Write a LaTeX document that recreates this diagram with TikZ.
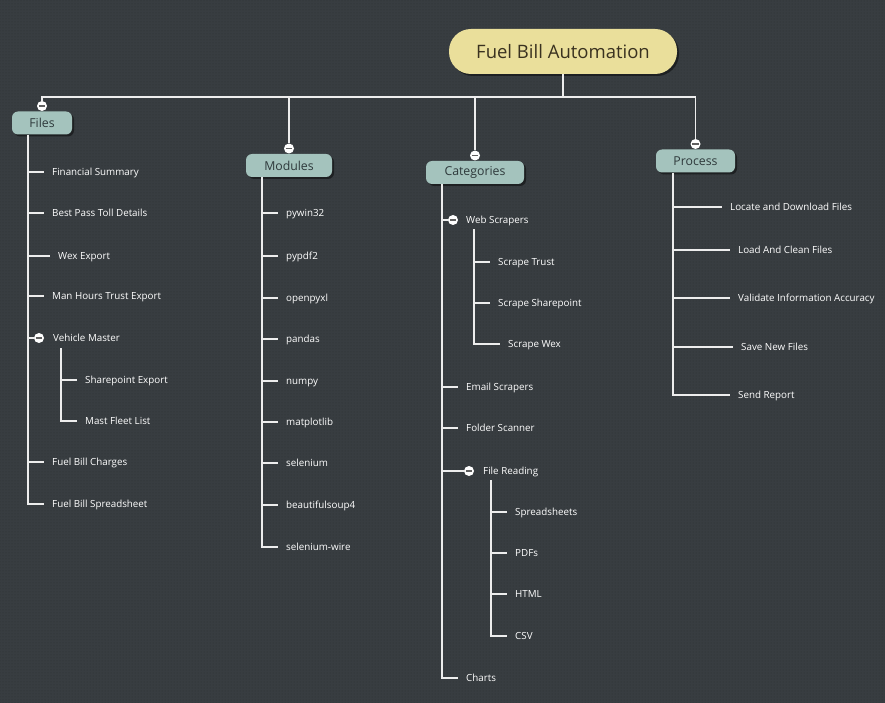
\documentclass[tikz,border=0pt]{standalone}
\usepackage{fontspec}
\setmainfont{Open Sans}
\usetikzlibrary{shadows,patterns,calc}
\definecolor{bgc}{HTML}{383D41}
\definecolor{dotc}{HTML}{2C3134}
\definecolor{rootfill}{HTML}{EADF9B}
\definecolor{rootink}{HTML}{3A3220}
\definecolor{mainfill}{HTML}{A4C3BD}
\definecolor{mainink}{HTML}{2E393B}
\definecolor{linec}{HTML}{EDEDED}
\tikzset{
  x=1pt,y=-1pt,
  conn/.style={draw=linec, line width=1.8pt},
  rootbox/.style={draw=none, fill=rootfill, rounded corners=22pt, minimum width=228pt, minimum height=45pt,
    text=rootink, font=\fontsize{18.5}{20}\selectfont, inner sep=0pt,
    drop shadow={shadow xshift=2pt, shadow yshift=-2pt, fill=black, opacity=0.45}},
  mainbox/.style={draw=none, fill=mainfill, rounded corners=6pt, minimum height=23pt,
    text=mainink, font=\fontsize{12.3}{14}\selectfont, inner sep=0pt,
    drop shadow={shadow xshift=2pt, shadow yshift=-2pt, fill=black, opacity=0.45}},
  leaf/.style={anchor=west, text=white, font=\fontsize{9.8}{11}\selectfont, inner xsep=8pt, inner ysep=1pt,
    text height=8.5pt, text depth=1.5pt},
  tog/.style={circle, fill=white, draw=none, minimum size=10pt, inner sep=0pt,
    path picture={\draw[gray!75!black, line width=1.3pt]
      ([xshift=-3.2pt]path picture bounding box.center) -- ([xshift=3.2pt]path picture bounding box.center);}},
}
\begin{document}
\begin{tikzpicture}
\useasboundingbox (0,0) rectangle (885,703);
\fill[bgc] (0,0) rectangle (885,703);
\fill[pattern=dots, pattern color=dotc] (0,0) rectangle (885,703);

% root and main nodes
\node[rootbox] (root) at (563,51.5) {Fuel Bill Automation};
\node[mainbox, minimum width=60pt] (files) at (42,123) {Files};
\node[mainbox, minimum width=86pt] (modules) at (289,165.5) {Modules};
\node[mainbox, minimum width=98pt] (categories) at (475,172.5) {Categories};
\node[mainbox, minimum width=79pt] (process) at (695.5,161) {Process};

\node[tog] (filesc) at (42,106) {};
\node[tog] (modulesc) at (289,148.5) {};
\node[tog] (categoriesc) at (475,155.5) {};
\node[tog] (processc) at (695.5,144) {};

\coordinate (bus) at (0,97);
\draw[conn] (root.south) -- (root.south |- bus);
\draw[conn] (filesc.north) -- (filesc.north |- bus) -- (processc.north |- bus) -- (processc.north);
\draw[conn] (modulesc.north) -- (modulesc.north |- bus);
\draw[conn] (categoriesc.north) -- (categoriesc.north |- bus);

% ---------- Files ----------
\coordinate (fv) at ([xshift=-14pt]files.south);
\node[leaf] (fs) at (44,172) {Financial Summary};
\node[leaf] (bp) at (44,213) {Best Pass Toll Details};
\node[leaf] (wx) at (50,256) {Wex Export};
\node[leaf] (mh) at (44,296) {Man Hours Trust Export};
\node[tog] (vmc) at (39,338) {};
\node[leaf] (vm) at (45,338) {Vehicle Master};
\node[leaf] (se) at (77,380) {Sharepoint Export};
\node[leaf] (mf) at (77,421) {Mast Fleet List};
\node[leaf] (fc) at (44,462) {Fuel Bill Charges};
\node[leaf] (fb) at (44,504) {Fuel Bill Spreadsheet};
\foreach \n in {fs,bp,wx,mh,fc} \draw[conn] (fv |- \n.west) -- (\n.west);
\draw[conn] (fv |- vmc.west) -- (vmc.west);
\draw[conn] (fv) |- (fb.west);
\coordinate (vmv) at (61,348);
\draw[conn] (vmv |- se.west) -- (se.west);
\draw[conn] (vmv) |- (mf.west);

% ---------- Modules ----------
\coordinate (mv) at ([xshift=-27pt]modules.south);
\node[leaf] (m1) at (278,213) {pywin32};
\node[leaf] (m2) at (278,256) {pypdf2};
\node[leaf] (m3) at (278,298) {openpyxl};
\node[leaf] (m4) at (278,339) {pandas};
\node[leaf] (m5) at (278,381) {numpy};
\node[leaf] (m6) at (278,422) {matplotlib};
\node[leaf] (m7) at (278,463) {selenium};
\node[leaf] (m8) at (278,505) {beautifulsoup4};
\node[leaf] (m9) at (278,547) {selenium-wire};
\foreach \n in {m1,m2,m3,m4,m5,m6,m7,m8} \draw[conn] (mv |- \n.west) -- (\n.west);
\draw[conn] (mv) |- (m9.west);

% ---------- Categories ----------
\coordinate (cv) at ([xshift=-33pt]categories.south);
\node[tog] (wsc) at (453,220) {};
\node[leaf] (ws) at (458,220) {Web Scrapers};
\node[leaf] (st) at (490,262) {Scrape Trust};
\node[leaf] (ss) at (490,303) {Scrape Sharepoint};
\node[leaf] (sw) at (500,344) {Scrape Wex};
\node[leaf] (es) at (458,387) {Email Scrapers};
\node[leaf] (fo) at (458,428) {Folder Scanner};
\node[tog] (frc) at (469,471) {};
\node[leaf] (fr) at (475,471) {File Reading};
\node[leaf] (sp) at (507,512) {Spreadsheets};
\node[leaf] (pd) at (507,553) {PDFs};
\node[leaf] (ht) at (507,594) {HTML};
\node[leaf] (cs) at (507,636) {CSV};
\node[leaf] (ch) at (458,678) {Charts};
\draw[conn] (cv |- wsc.west) -- (wsc.west);
\draw[conn] (cv |- frc.west) -- (frc.west);
\foreach \n in {es,fo} \draw[conn] (cv |- \n.west) -- (\n.west);
\draw[conn] (cv) |- (ch.west);
\coordinate (wsv) at (474,229);
\foreach \n in {st,ss} \draw[conn] (wsv |- \n.west) -- (\n.west);
\draw[conn] (wsv) |- (sw.west);
\coordinate (frv) at (491,480);
\foreach \n in {sp,pd,ht} \draw[conn] (frv |- \n.west) -- (\n.west);
\draw[conn] (frv) |- (cs.west);

% ---------- Process ----------
\coordinate (pv) at ([xshift=-22.5pt]process.south);
\node[leaf] (p1) at (722,207) {Locate and Download Files};
\node[leaf] (p2) at (730,250) {Load And Clean Files};
\node[leaf] (p3) at (730,298) {Validate Information Accuracy};
\node[leaf] (p4) at (733,347) {Save New Files};
\node[leaf] (p5) at (730,395) {Send Report};
\foreach \n in {p1,p2,p3,p4} \draw[conn] (pv |- \n.west) -- (\n.west);
\draw[conn] (pv) |- (p5.west);
\end{tikzpicture}
\end{document}
